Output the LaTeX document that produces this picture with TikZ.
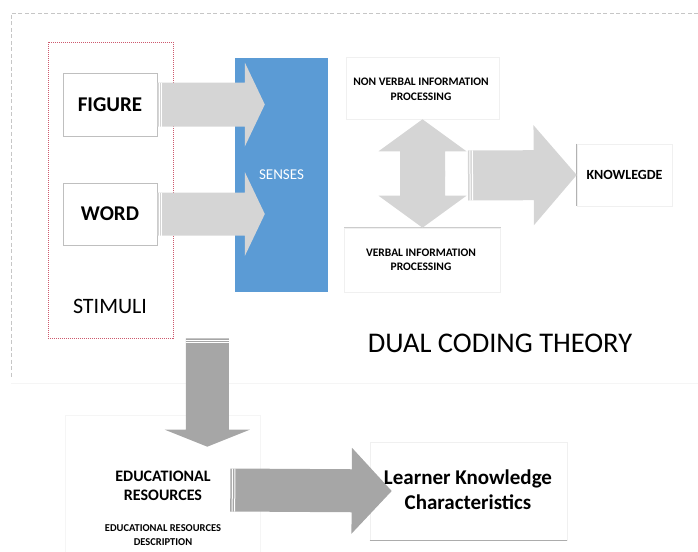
\documentclass[tikz,border=0pt]{standalone}
\usepackage{fontspec}
\setmainfont{Carlito}
\usetikzlibrary{positioning, calc}

\definecolor{senseBlue}{HTML}{5B9BD5}
\definecolor{lightArrow}{HTML}{D5D5D5}
\definecolor{darkArrow}{HTML}{A6A6A6}
\definecolor{stimRed}{RGB}{205,90,110}

% block arrow: colour, start, tip, half shaft, half head, head length
\newcommand{\blockarrow}[6]{%
    \coordinate (ba-s) at (#2);
    \coordinate (ba-t) at (#3);
    \coordinate (ba-b) at ($(ba-t)!#6!(ba-s)$);
    \fill[#1] ($(ba-s)!#4!90:(ba-t)$) -- ($(ba-b)!#4!90:(ba-t)$)
        -- ($(ba-b)!#5!90:(ba-t)$) -- (ba-t) -- ($(ba-b)!#5!-90:(ba-t)$)
        -- ($(ba-b)!#4!-90:(ba-t)$) -- ($(ba-s)!#4!-90:(ba-t)$) -- cycle;
}
% white cuts at the tail of the last block arrow
\newcommand{\tailcuts}[1]{%
    \foreach \dd in {2pt,4.5pt}
    {
        \coordinate (tc) at ($(ba-s)!\dd!(ba-t)$);
        \draw[white, line width=1pt] ($(tc)!#1!90:(ba-t)$) -- ($(tc)!#1!-90:(ba-t)$);
    }
}

\begin{document}
\begin{tikzpicture}
    [
        x=1pt, y=-1pt,
        box/.style={draw=gray!50, line width=0.6pt, minimum width=94pt, minimum height=62pt, inner sep=0pt,
            font=\fontsize{21}{25}\selectfont\bfseries},
        faintbox/.style={draw=gray!12, line width=0.6pt, inner sep=0pt},
        edgeline/.style={gray!60, line width=0.8pt},
        proctext/.style={align=center, font=\fontsize{11.5}{14.5}\selectfont\bfseries},
        framedash/.style={gray!45, line width=0.6pt, dash pattern=on 4pt off 2.5pt}
    ]
    \useasboundingbox (0,0) rectangle (698,551);

    % outer frame
    \draw[framedash] (698,13) -- (11,13) -- (11,378);
    \draw[gray!8, line width=0.8pt] (11,383) -- (698,383);

    % stimuli
    \node[draw=stimRed, line width=0.6pt, dash pattern=on 1pt off 1pt, minimum width=125pt, minimum height=296pt]
        (stimuli) at (110.5,190) {};
    \node[box, minimum height=63pt] (figure) at (110,104.5) {FIGURE};
    \node[box] (word) at (110,214) {WORD};
    \node[font=\fontsize{22}{26}\selectfont] (stimlabel) at (110,306) {STIMULI};

    % senses
    \node[fill=senseBlue, minimum width=93pt, minimum height=234pt, text=white,
        font=\fontsize{15}{18}\selectfont] (senses) at (281.5,175) {SENSES};

    % processing
    \node[faintbox, minimum width=153pt, minimum height=62pt] (nonverbal) at (422.5,88) {};
    \node[proctext] at (421,89.5) {NON VERBAL INFORMATION\\PROCESSING};
    \node[faintbox, minimum width=156pt, minimum height=64pt] (verbal) at (422.5,260) {};
    \draw[gray!40, line width=0.8pt] (verbal.north west) -- (verbal.north east);
    \node[proctext] at (421,260) {VERBAL INFORMATION\\PROCESSING};
    \node[faintbox, minimum width=95pt, minimum height=62pt, font=\fontsize{14}{17}\selectfont\bfseries]
        (knowledge) at (624.5,175) {KNOWLEGDE};
    \draw[edgeline] (knowledge.north west) -- (knowledge.south west);

    \node[font=\fontsize{28.5}{34}\selectfont] (theory) at (500,343) {DUAL CODING THEORY};

    % educational resources
    \node[faintbox, draw=gray!8, minimum width=195pt, minimum height=150pt] (edu) at (162.5,490) {};
    \node[align=center, font=\fontsize{16}{18.5}\selectfont\bfseries] (edutitle) at (163,486)
        {EDUCATIONAL\\RESOURCES};
    \node[align=center, font=\fontsize{10.5}{13.5}\selectfont\bfseries] (edudesc) at (163,535)
        {EDUCATIONAL RESOURCES\\DESCRIPTION};
    \node[faintbox, minimum width=197pt, minimum height=98pt] (learner) at (468.5,491) {};
    \draw[gray!65, line width=1pt] (learner.south west) -- (learner.south east);

    % arrows
    \blockarrow{lightArrow}{figure.east}{$(senses.west |- figure.east)+(30,0)$}{22pt}{42pt}{20pt}
    \tailcuts{22pt}
    \blockarrow{lightArrow}{word.east}{$(senses.west |- word.east)+(30,0)$}{21.5pt}{42pt}{20pt}
    \tailcuts{21.5pt}
    \coordinate (dualmid) at ($(nonverbal.south)!0.5!(verbal.north)$);
    \blockarrow{lightArrow}{$(dualmid)+(0,3)$}{nonverbal.south}{22.5pt}{44pt}{32pt}
    \blockarrow{lightArrow}{$(dualmid)+(0,-3)$}{verbal.north}{22.5pt}{44pt}{32pt}
    \coordinate (dualout) at ($(dualmid)+(45.5,2)$);
    \blockarrow{lightArrow}{dualout}{knowledge.west}{25pt}{50pt}{43pt}
    \tailcuts{25pt}
    \coordinate (stimout) at ($(stimuli.south east)+(34,0)$);
    \blockarrow{darkArrow}{stimout}{$(edu.north -| stimout)+(0,32)$}{21.5pt}{42.5pt}{17pt}
    \tailcuts{21.5pt}
    \blockarrow{darkArrow}{$(edu.east)+(-30,0)$}{$(learner.west)+(22,0)$}{21.5pt}{43pt}{40pt}
    \tailcuts{21.5pt}

    \node[align=center, font=\fontsize{21}{25}\selectfont\bfseries] (learntext) at (468,490)
        {Learner Knowledge\\Characteristics};
\end{tikzpicture}
\end{document}
